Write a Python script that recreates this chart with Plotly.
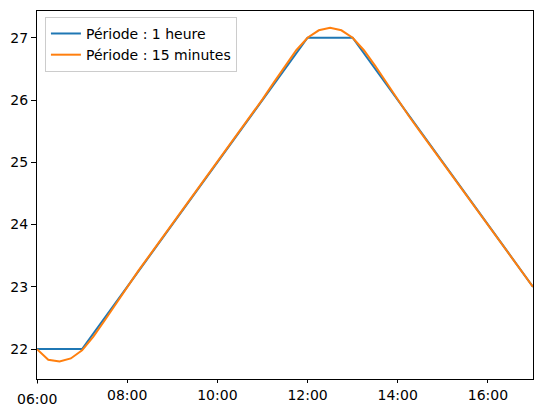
import pandas as pd
import plotly.graph_objects as go

day = "2024-01-01"

# hourly series
hourly_times = pd.date_range(f"{day} 06:00", f"{day} 17:00", freq="1h")
hourly_temp = [22.0, 22.0, 23.0, 24.0, 25.0, 26.0, 27.0, 27.0, 26.0, 25.0, 24.0, 23.0]

# 15 minute series
quarter_times = pd.date_range(f"{day} 06:00", f"{day} 17:00", freq="15min")
quarter_temp = [
    22.00, 21.83, 21.80, 21.85,
    21.98, 22.20, 22.46, 22.73,
    23.00, 23.26, 23.51, 23.76,
    24.00, 24.25, 24.50, 24.75,
    25.00, 25.25, 25.50, 25.76,
    26.01, 26.28, 26.55, 26.80,
    27.00, 27.12, 27.16, 27.12,
    27.00, 26.80, 26.55, 26.28,
    26.00, 25.74, 25.49, 25.24,
    25.00, 24.75, 24.50, 24.25,
    24.00, 23.75, 23.50, 23.25,
    23.00,
]

x_ticks = pd.date_range(f"{day} 06:00", f"{day} 16:00", freq="2h")
x_labels = ["", "08:00", "10:00", "12:00", "14:00", "16:00"]
y_ticks = [22, 23, 24, 25, 26, 27]

font = dict(family="DejaVu Sans", size=14, color="black")

fig = go.Figure()
fig.add_trace(go.Scatter(x=hourly_times, y=hourly_temp, mode="lines",
                         name="Période : 1 heure", line=dict(color="#1f77b4", width=2)))
fig.add_trace(go.Scatter(x=quarter_times, y=quarter_temp, mode="lines",
                         name="Période : 15 minutes", line=dict(color="#ff7f0e", width=2)))

# 06:00 is the pandas "major" tick: longer tick, lower label
fig.add_shape(type="line", xref="x", yref="paper", x0=hourly_times[0], x1=hourly_times[0],
              y0=0, y1=-0.0136, line=dict(color="black", width=1))
fig.add_annotation(x=hourly_times[0], y=0, xref="x", yref="paper", text="06:00",
                   showarrow=False, yanchor="top", yshift=-10, font=font)

fig.update_layout(
    width=543, height=413,
    margin=dict(l=37, r=10, t=11, b=34),
    paper_bgcolor="white", plot_bgcolor="white",
    font=font,
    showlegend=True,
    legend=dict(x=0.016, y=0.984, xanchor="left", yanchor="top",
                bgcolor="white", bordercolor="#cccccc", borderwidth=1,
                font=font, tracegroupgap=0),
)
fig.update_xaxes(
    range=[f"{day} 06:00", f"{day} 17:00"],
    tickvals=x_ticks, ticktext=x_labels,
    ticks="outside", ticklen=3, tickcolor="black",
    showgrid=False, zeroline=False,
    showline=True, linecolor="black", linewidth=1, mirror=True,
)
fig.update_yaxes(
    range=[21.52, 27.43],
    tickvals=y_ticks,
    ticks="outside", ticklen=5, tickcolor="black",
    showgrid=False, zeroline=False,
    showline=True, linecolor="black", linewidth=1, mirror=True,
)

fig.write_html(
    "out.html",
    config={"displayModeBar": False},
    post_script="document.body.style.margin='0';document.body.style.overflow='hidden';",
)
